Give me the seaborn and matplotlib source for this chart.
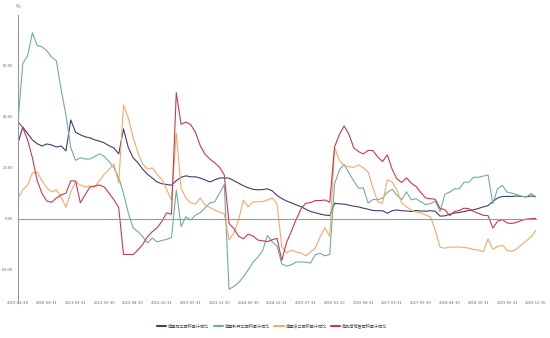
import numpy as np
import pandas as pd
import matplotlib
matplotlib.use("Agg")
import matplotlib.pyplot as plt
import seaborn as sns

# month-end dates (January is not published separately)
dates = [d.strftime("%Y-%m-%d") for d in pd.date_range("2010-02-28", "2019-11-30", freq="ME") if d.month != 1]

tick_labels = ["2010-02-28", "2010-08-31", "2011-03-31", "2011-09-30", "2012-04-30",
               "2012-10-31", "2013-05-31", "2013-11-30", "2014-06-30", "2014-12-31",
               "2015-07-31", "2016-02-29", "2016-08-31", "2017-03-31", "2017-09-30",
               "2018-04-30", "2018-10-31", "2019-05-31", "2019-11-30"]

series_names = ["房屋施工面积累计同比", "房屋新开工面积累计同比", "房屋竣工面积累计同比", "商品房销售面积累计同比"]

construction = [29.8, 36.0, 33.5, 31.0, 29.5, 28.6, 29.4, 29.0, 28.2, 28.6, 26.7,
                38.8, 34.0, 33.0, 32.2, 31.8, 31.0, 30.5, 29.8, 28.7, 27.8, 25.5,
                35.3, 28.0, 24.0, 22.0, 19.5, 17.5, 16.0, 14.5, 13.8, 13.5, 13.2,
                15.0, 16.3, 16.9, 16.5, 16.5, 16.0, 15.3, 14.5, 15.3, 16.0, 16.1,
                16.0, 15.0, 14.0, 13.0, 12.2, 11.6, 11.4, 11.5, 11.8, 11.0, 9.2,
                8.0, 7.0, 6.3, 5.5, 4.8, 3.8, 2.9, 2.4, 1.9, 1.5, 1.3,
                6.1, 5.9, 5.8, 5.4, 5.0, 4.7, 4.2, 3.8, 3.3, 3.2, 3.2,
                2.2, 3.2, 3.5, 3.2, 3.1, 2.9, 3.3, 3.1, 3.0, 3.2, 3.0,
                1.1, 1.2, 1.8, 2.3, 2.5, 2.9, 3.3, 3.6, 4.1, 4.7, 5.2,
                6.8, 8.2, 8.8, 8.8, 8.8, 9.0, 8.8, 8.7, 9.0, 8.7]

new_starts = [38.5, 61.0, 64.0, 73.0, 68.0, 67.5, 66.0, 63.5, 62.0, 50.6, 40.7,
              28.0, 23.0, 24.0, 23.5, 23.5, 24.5, 25.5, 24.5, 22.5, 20.0, 16.2,
              10.0, 2.3, -3.5, -5.0, -7.0, -9.4, -7.5, -9.0, -8.5, -8.0, -7.3,
              11.4, -3.0, 0.8, -0.4, 1.5, 2.4, 4.3, 6.3, 6.7, 10.0, 13.5,
              -27.6, -26.5, -25.0, -22.7, -20.0, -17.0, -15.0, -12.5, -6.5, -9.0, -10.7,
              -17.7, -18.5, -18.0, -16.9, -16.9, -17.0, -17.3, -14.0, -13.5, -14.5, -14.0,
              13.7, 19.2, 21.4, 18.0, 14.9, 12.0, 12.2, 6.2, 7.6, 7.6, 8.1,
              10.4, 11.6, 9.3, 7.6, 10.6, 7.5, 7.9, 6.7, 5.6, 6.0, 7.0,
              2.9, 9.7, 10.5, 11.8, 11.8, 14.4, 14.4, 16.4, 16.3, 16.8, 17.2,
              6.0, 11.9, 13.1, 10.5, 10.1, 9.5, 8.9, 8.6, 10.0, 8.6]

completion = [8.2, 11.4, 13.3, 18.0, 18.4, 15.0, 12.2, 10.6, 11.4, 8.6, 4.5,
              10.6, 14.5, 13.3, 12.5, 13.0, 12.5, 15.0, 17.5, 19.5, 21.5, 14.0,
              44.7, 39.6, 32.0, 26.0, 21.5, 19.5, 20.0, 17.5, 15.5, 11.5, 7.3,
              33.7, 12.0, 8.2, 6.3, 5.8, 8.2, 5.5, 4.5, 3.5, 2.7, 2.0,
              -8.2, -5.5, -0.4, 7.4, 4.7, 6.7, 6.7, 6.8, 7.4, 8.2, 5.9,
              -11.0, -13.3, -12.2, -13.0, -13.3, -14.5, -13.0, -11.4, -7.0, -3.5, -6.9,
              28.0, 23.0, 21.0, 20.5, 20.2, 21.2, 20.0, 18.4, 12.2, 6.7, 6.1,
              15.3, 14.5, 11.4, 6.3, 4.7, 3.5, 2.7, 2.4, 1.5, 0.8, -4.4,
              -11.1, -11.5, -11.0, -11.1, -11.0, -11.2, -11.5, -12.0, -12.2, -12.9, -7.8,
              -11.9, -10.8, -10.3, -12.4, -12.7, -11.8, -10.0, -8.6, -7.0, -4.5]

sales = [38.2, 35.8, 31.0, 24.0, 15.0, 10.0, 7.0, 6.5, 8.2, 9.4, 10.1,
         14.9, 14.9, 6.3, 9.5, 12.5, 12.9, 13.3, 12.5, 10.0, 7.5, 4.4,
         -14.0, -13.9, -14.0, -12.2, -10.0, -7.0, -5.0, -3.5, -1.0, 2.4, 1.8,
         49.5, 37.1, 38.0, 37.0, 34.0, 28.7, 25.4, 23.5, 22.0, 20.3, 17.3,
         -1.8, -3.8, -6.8, -7.8, -6.0, -6.7, -8.3, -8.6, -8.9, -8.2, -7.6,
         -16.3, -9.2, -4.8, -0.2, 3.9, 6.1, 6.4, 7.2, 7.2, 7.4, 6.5,
         28.2, 33.1, 36.5, 33.2, 27.9, 26.4, 25.5, 26.9, 26.8, 24.3, 22.5,
         25.1, 19.5, 15.7, 14.3, 16.1, 14.0, 12.7, 10.3, 8.2, 7.9, 7.7,
         4.1, 3.6, 1.3, 2.9, 3.3, 4.2, 4.0, 2.9, 2.2, 1.4, 1.3,
         -3.6, -0.9, -0.3, -1.6, -1.8, -1.3, -0.6, -0.1, 0.1, 0.2]

colors = ["#3f3d70", "#6fae9f", "#f3aa6a", "#c73a50"]

sns.set_style("white")
plt.rcParams["font.family"] = ["Noto Sans CJK SC", "DejaVu Sans"]
plt.rcParams["axes.unicode_minus"] = False

rows = []
for name, vals in zip(series_names, [construction, new_starts, completion, sales]):
    for i, (d, v) in enumerate(zip(dates, vals)):
        rows.append({"idx": i, "date": d, "series": name, "value": v})
df = pd.DataFrame(rows)

fig = plt.figure(figsize=(5.5, 3.38), dpi=100)
ax = fig.add_axes([18 / 550, 1 - 303 / 338, (536 - 18) / 550, (303 - 15) / 338])

sns.lineplot(data=df, x="idx", y="value", hue="series", hue_order=series_names,
             palette=colors, linewidth=0.8, ax=ax, legend=True)

ax.set_xlim(0, len(dates) - 1)
ax.set_ylim(-33, 80)
ax.set_xlabel("")
ax.set_ylabel("")

# x axis drawn at zero, labels at bottom
ax.spines["bottom"].set_position(("data", 0))
ax.spines["bottom"].set_color("#9a9a9a")
ax.spines["bottom"].set_linewidth(0.8)
ax.spines["left"].set_color("#9a9a9a")
ax.spines["left"].set_linewidth(0.8)
ax.spines["top"].set_visible(False)
ax.spines["right"].set_visible(False)

ax.set_xticks(list(range(0, len(dates), 6)))
ax.set_xticklabels(tick_labels)
ax.tick_params(axis="x", direction="out", length=2, width=0.6, color="#9a9a9a",
               labelsize=3, labelcolor="#666666", pad=57)

ax.set_yticks([-20, 0, 20, 40, 60])
ax.set_yticklabels(["-20.00", "0.00", "20.00", "40.00", "60.00"])
ax.tick_params(axis="y", direction="out", length=2, width=0.6, color="#9a9a9a",
               labelsize=3, labelcolor="#666666", pad=1.5)

ax.text(0, 1.02, "%", transform=ax.transAxes, fontsize=3.5, color="#666666",
        ha="center", va="bottom")

leg = ax.legend(loc="center", bbox_to_anchor=(0.495, 1 - 326 / 338), bbox_transform=fig.transFigure,
                ncol=4, frameon=False, fontsize=3, handlelength=2.2, handletextpad=0.5,
                columnspacing=1.0)
for line in leg.get_lines():
    line.set_linewidth(1.5)
for t in leg.get_texts():
    t.set_color("#555555")

fig.savefig("out.png", dpi=100, facecolor="white")
